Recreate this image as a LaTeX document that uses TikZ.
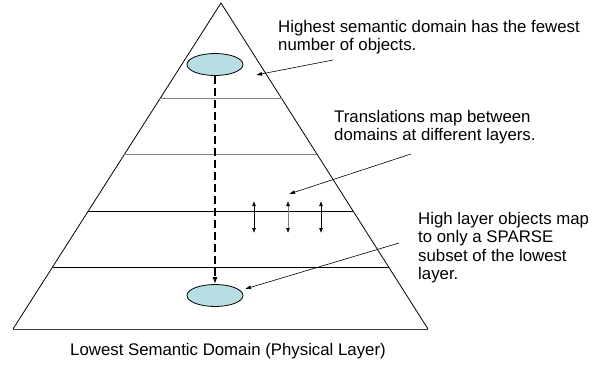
\documentclass[tikz,border=0pt]{standalone}
\usepackage{fontspec}
\setmainfont{Liberation Sans}
\usetikzlibrary{arrows,arrows.meta,shapes,positioning,calc}

\definecolor{domainfill}{RGB}{183,222,226}

\begin{document}
\begin{tikzpicture}[
  x=1pt, y=-1pt,
  >=latex,
  every node/.style={inner sep=0pt,font=\fontsize{16.8}{18.5}\selectfont},
  domainball/.style={draw,ellipse,fill=domainfill,minimum width=56pt,minimum height=22pt,line width=0.8pt},
  note/.style={align=left,anchor=base west},
  callout/.style={-{Latex[length=6pt,width=4pt]},line width=0.6pt},
  updown/.style={{Latex[length=5pt,width=4pt,black]}-{Latex[length=5pt,width=4pt,black]},line width=0.7pt},
  ]
  \useasboundingbox (0,0) rectangle (608,365);

  % pyramid
  \coordinate (apex) at (221,3);
  \coordinate (BL) at (13,329);
  \coordinate (BR) at (428,329);
  \draw[line width=0.8pt] (BL) -- (apex) -- (BR);
  \draw[line width=1pt,black!75] (BL) -- (BR);
  \foreach \t/\c in {0.294/gray,0.466/gray,0.638/black,0.810/black}
    \draw[\c,line width=0.9pt] ($(apex)!\t!(BL)$) -- ($(apex)!\t!(BR)$);

  % domains
  \node[domainball] (high) at (215,64.5) {};
  \node[domainball] (low) at (215,295.5) {};
  \draw[-{Latex[length=7pt,width=5pt]},line width=2pt,dash pattern=on 8pt off 4pt] (high.south) -- (low.north);

  % translations
  \foreach \x/\c in {254/black,288/gray,321/black}{
    \coordinate (up\x) at (\x,201);
    \coordinate (dn\x) at (\x,233);
    \draw[updown,\c] (up\x) -- (dn\x);
  }

  % notes (base = last line)
  \node[note] (hightxt) at (278,50.5) {Highest semantic domain has the fewest\\number of objects.};
  \node[note] (transtxt) at (334,140.5) {Translations map between\\domains at different layers.};
  \node[note] (sparsetxt) at (418,279.5) {High layer objects map\\to only a SPARSE\\subset of the lowest\\layer.};
  \node[anchor=base] (lowtxt) at (228,355) {Lowest Semantic Domain (Physical Layer)};

  \coordinate (c1) at (333,60);
  \coordinate (c1e) at (256,75);
  \coordinate (c2) at (411,154);
  \coordinate (c2e) at (289,194);
  \coordinate (c3) at (399,243);
  \coordinate (c3e) at (245,289);
  \draw[callout] (c1) -- (c1e);
  \draw[callout] (c2) -- (c2e);
  \draw[callout] (c3) -- (c3e);
\end{tikzpicture}
\end{document}
